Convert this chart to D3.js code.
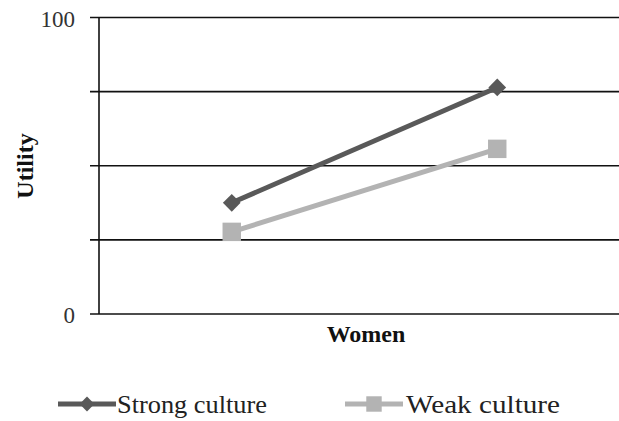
<!DOCTYPE html>
<html>
<head>
<meta charset="utf-8">
<script src="https://cdn.jsdelivr.net/npm/d3@7"></script>
<style>
  body { margin: 0; background: #fff; }
  svg { display: block; font-family: 'Liberation Serif', 'Times New Roman', serif; }
</style>
</head>
<body>
<svg width="619" height="421"></svg>
<script>
// data
const categories = ['Group 1', 'Group 2']
const strongCulture = [37.5, 76.4]
const weakCulture = [27.7, 55.7]
const yTicks = [0, 25, 50, 75, 100]
const yTickLabels = ['0', '', '', '', '100']

const svg = d3.select('svg')

const x = d3.scalePoint()
  .domain(categories)
  .range([99, 630])
  .padding(0.5)

const y = d3.scaleLinear()
  .domain([0, 100])
  .range([314, 17.5])

// gridlines
svg.append('g')
  .selectAll('line')
  .data(yTicks)
  .enter()
  .append('line')
  .attr('x1', 90)
  .attr('x2', 619)
  .attr('y1', d => y(d))
  .attr('y2', d => y(d))
  .attr('stroke', '#111')
  .attr('stroke-width', 1.6)

// y axis line
svg.append('line')
  .attr('x1', 99).attr('x2', 99)
  .attr('y1', y(100)).attr('y2', y(0))
  .attr('stroke', '#111')
  .attr('stroke-width', 1.6)

// tick labels
svg.append('g')
  .selectAll('text')
  .data(yTicks)
  .enter()
  .append('text')
  .attr('x', 75)
  .attr('y', d => y(d) + 9)
  .attr('text-anchor', 'end')
  .attr('font-size', 23)
  .attr('fill', '#333')
  .text((d, i) => yTickLabels[i])

// axis titles
svg.append('text')
  .attr('x', 366)
  .attr('y', 342)
  .attr('text-anchor', 'middle')
  .attr('font-size', 24)
  .attr('font-weight', 'bold')
  .attr('fill', '#111')
  .text('Women')

svg.append('text')
  .attr('transform', 'translate(33,166) rotate(-90)')
  .attr('text-anchor', 'middle')
  .attr('font-size', 24)
  .attr('font-weight', 'bold')
  .attr('fill', '#111')
  .text('Utility')

const series = [
  { name: 'Strong culture', values: strongCulture, color: '#595959', symbol: d3.symbolDiamond2, size: 200 },
  { name: 'Weak culture', values: weakCulture, color: '#b3b3b3', symbol: d3.symbolSquare, size: 340 }
]

const line = d3.line()
  .x((d, i) => x(categories[i]))
  .y(d => y(d))

series.forEach(s => {
  svg.append('path')
    .datum(s.values)
    .attr('d', line)
    .attr('fill', 'none')
    .attr('stroke', s.color)
    .attr('stroke-width', 5)

  svg.append('g')
    .selectAll('path')
    .data(s.values)
    .enter()
    .append('path')
    .attr('transform', (d, i) => `translate(${x(categories[i])},${y(d)})`)
    .attr('d', d3.symbol().type(s.symbol).size(s.size))
    .attr('fill', s.color)
})

// legend
const legendItems = [
  { lx: 58, tx: 117, w: 150 },
  { lx: 345, tx: 406, w: 154 }
]
series.forEach((s, i) => {
  const it = legendItems[i]
  const g = svg.append('g')
  g.append('line')
    .attr('x1', it.lx).attr('x2', it.lx + 58)
    .attr('y1', 404).attr('y2', 404)
    .attr('stroke', s.color)
    .attr('stroke-width', 5)
  g.append('path')
    .attr('transform', `translate(${it.lx + 29},404)`)
    .attr('d', d3.symbol().type(s.symbol).size(s.size * 0.7))
    .attr('fill', s.color)
  g.append('text')
    .attr('x', it.tx)
    .attr('y', 413)
    .attr('font-size', 25)
    .attr('fill', '#222')
    .attr('textLength', it.w)
    .attr('lengthAdjust', 'spacingAndGlyphs')
    .text(s.name)
})
</script>
</body>
</html>
